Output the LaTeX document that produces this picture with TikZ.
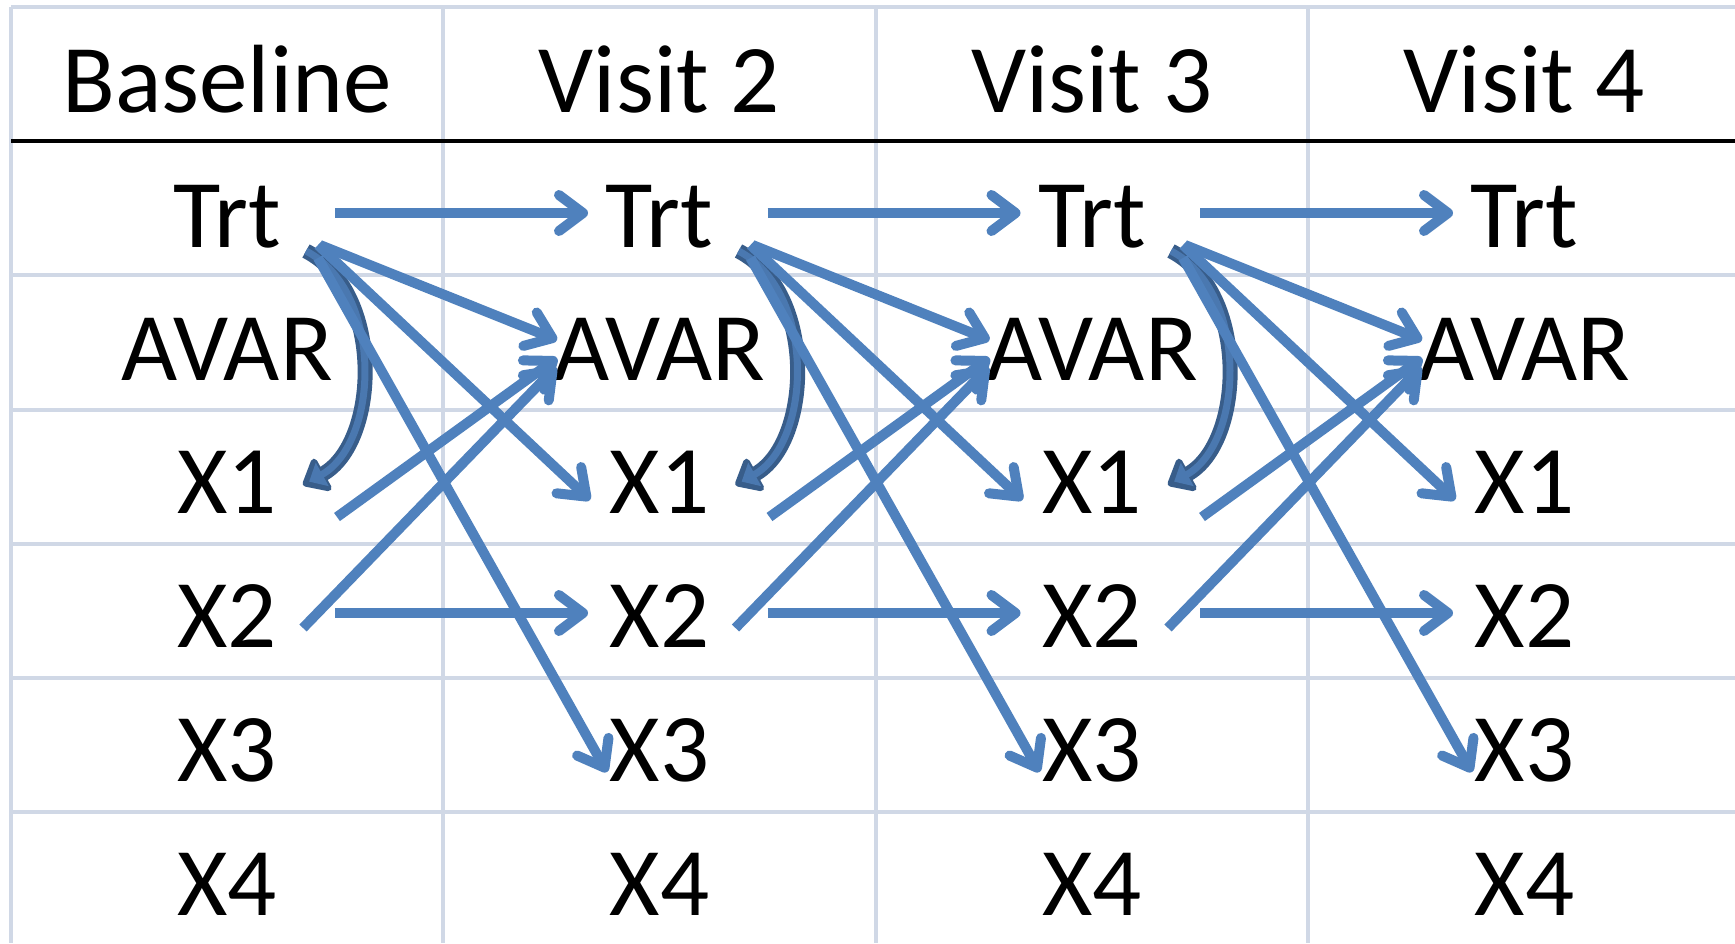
\documentclass[tikz,border=0pt]{standalone}
\usepackage{fontspec}
\setmainfont{Carlito}
\usetikzlibrary{arrows.meta,calc}
\definecolor{gridgray}{HTML}{D0D8E6}
\definecolor{arrblue}{HTML}{4F81BD}
\definecolor{darkblue}{HTML}{385D8A}
\definecolor{midblue}{HTML}{4A78B0}
\begin{document}
\begin{tikzpicture}[x=1pt,y=-1pt,
  lbl/.style={font=\fontsize{97}{97}\selectfont, inner sep=0pt, anchor=base},
  gridline/.style={draw=gridgray, line width=3.2pt},
  headline/.style={draw=black, line width=3.4pt},
  link/.style={draw=arrblue, line width=10pt, -{Straight Barb[length=24pt,width=36pt,round]}},
  curvout/.style={draw=darkblue, line width=15pt, -{Triangle[length=26pt,width=42pt,round]}},
  curvin/.style={draw=midblue, line width=7pt, shorten >=7pt, -{Triangle[length=15pt,width=26pt]}}
]
\useasboundingbox (0,0) rectangle (1735,943);
\fill[white] (0,0) rectangle (1735,943);
% grid
\draw[gridline] (11,7) -- (1735,7);
\foreach \yy in {275,410,544,678,812} \draw[gridline] (11,\yy) -- (1735,\yy);
\foreach \xx in {11,443,876,1308} \draw[gridline] (\xx,7) -- (\xx,943);
\draw[headline] (11,141) -- (1735,141);
% labels
\foreach \k/\h in {0/Baseline,1/Visit 2,2/Visit 3,3/Visit 4} {
  \pgfmathsetmacro\cx{227+432.5*\k}
  \node[lbl] (h\k) at (\cx,112) {\h};
  \node[lbl] (t\k) at (\cx,247) {Trt};
  \node[lbl] (a\k) at (\cx,380) {AVAR};
  \node[lbl] (xa\k) at (\cx,513) {X1};
  \node[lbl] (xb\k) at (\cx,647) {X2};
  \node[lbl] (xc\k) at (\cx,781) {X3};
  \node[lbl] (xd\k) at (\cx,915) {X4};
}
% arrows
\foreach \k/\n in {0/1,1/2,2/3} {
  \draw[curvout] ($(t\k.base)+(79,4)$) .. controls ($(t\k.base)+(158,45)$) and ($(xa\k.base)+(152,-70)$) .. ($(xa\k.base)+(76,-28)$);
  \draw[curvin] ($(t\k.base)+(79,4)$) .. controls ($(t\k.base)+(158,45)$) and ($(xa\k.base)+(152,-70)$) .. ($(xa\k.base)+(76,-28)$);
  \draw[link] ($(t\k.base)+(108,-34)$) -- ($(t\n.base)+(-71.5,-34)$);
  \draw[link] ($(t\k.base)+(93,-2)$) -- ($(a\n.base)+(-102.5,-40)$);
  \draw[link] ($(t\k.base)+(91,-2)$) -- ($(xa\n.base)+(-69.5,-13)$);
  \draw[link] ($(t\k.base)+(91,11)$) -- ($(xc\n.base)+(-52.5,-9)$);
  \draw[link] ($(xa\k.base)+(110,4)$) -- ($(a\n.base)+(-102.5,-22)$);
  \draw[link] ($(xb\k.base)+(76,-19)$) -- ($(a\n.base)+(-103.5,-13)$);
  \draw[link] ($(xb\k.base)+(108,-34)$) -- ($(xb\n.base)+(-71.5,-34)$);
}
\end{tikzpicture}
\end{document}
